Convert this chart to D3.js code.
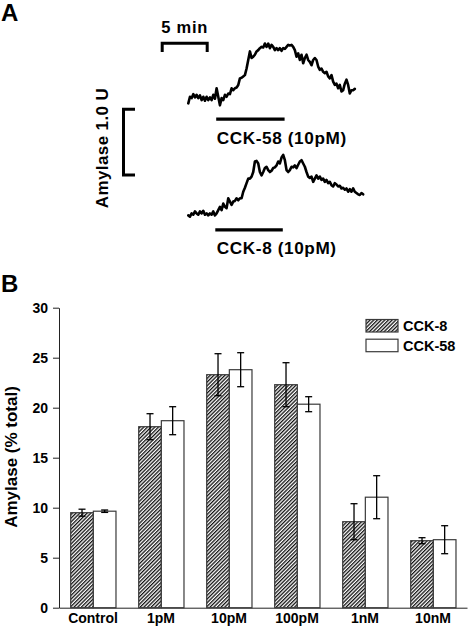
<!DOCTYPE html>
<html><head><meta charset="utf-8">
<script src="https://cdn.jsdelivr.net/npm/d3@7"></script>
<style>
body{margin:0;background:#fff}
text{font-family:"Liberation Sans",Arial,Helvetica,sans-serif;font-weight:bold;fill:#000}
</style>
</head><body>
<svg id="c" width="470" height="628"></svg>
<script>
// ---------- Panel A data (amylase release traces, U) ----------
const sampleStepMin = 0.185; // minutes between samples
const traceCCK58 = [0.01,0.11,0.09,0.15,0.10,0.14,0.09,0.13,0.06,0.11,0.05,0.11,0.06,0.10,0.06,0.14,0.08,0.24,0.11,-0.02,
  0.09,0.06,0.14,0.11,0.16,0.15,0.24,0.21,0.24,0.25,0.29,0.39,0.40,0.42,0.44,0.54,0.67,0.80,0.70,0.72,
  0.75,0.80,0.82,0.85,0.87,0.86,0.92,0.87,0.92,0.85,0.90,
  0.87,0.82,0.85,0.82,0.85,0.81,0.85,0.84,0.87,0.90,0.89,0.90,0.87,0.82,0.72,0.77,0.67,0.75,0.62,0.70,
  0.75,0.67,0.64,0.59,0.67,0.70,0.67,0.57,0.52,0.54,0.49,0.47,0.49,0.42,0.39,0.44,0.34,0.29,0.31,0.24,
  0.29,0.19,0.21,0.31,0.37,0.29,0.16,0.21,0.21,0.23];
const traceCCK8 = [0.04,0.02,0.07,0.05,0.10,0.07,0.05,0.10,0.07,0.11,0.05,0.07,0.04,0.07,0.05,0.10,0.04,0.07,0.12,0.17,
  0.12,0.22,0.17,0.15,0.30,0.25,0.20,0.25,0.26,0.30,0.27,0.30,0.30,0.40,0.46,0.53,0.60,0.60,0.63,0.70,
  0.86,0.87,0.83,0.70,0.65,0.70,0.76,0.78,0.73,0.70,
  0.72,0.76,0.77,0.80,0.86,0.83,0.92,0.96,0.88,0.73,0.70,0.73,0.78,0.77,0.80,0.76,0.81,0.86,0.88,0.83,
  0.78,0.70,0.63,0.61,0.63,0.55,0.60,0.65,0.60,0.63,0.58,0.60,0.55,0.58,0.53,0.55,0.50,0.48,0.53,0.51,
  0.48,0.49,0.45,0.46,0.43,0.45,0.40,0.44,0.40,0.45,0.40,0.38,0.36,0.35,0.38,0.36];
const stimCCK58 = [3.1, 10.7];   // min
const stimCCK8 = [3.0, 10.5];    // min
const timeScaleBar = [-2.9, 2.1]; // 5 min
const ampScaleBar = [0.654, 1.654]; // 1.0 U (on CCK-8 trace axis)

// ---------- Panel B data ----------
const categories = ["Control","1pM","10pM","100pM","1nM","10nM"];
const seriesNames = ["CCK-8","CCK-58"];
const valuesCCK8  = [9.5, 18.1, 23.3, 22.3, 8.6, 6.7];
const errorsCCK8  = [0.35, 1.3, 2.1, 2.2, 1.8, 0.3];
const valuesCCK58 = [9.65, 18.7, 23.8, 20.35, 11.05, 6.8];
const errorsCCK58 = [0.12, 1.4, 1.7, 0.75, 2.15, 1.4];
const yTickValues = [0,5,10,15,20,25,30];

const svg = d3.select("#c");
const defs = svg.append("defs");
const pat = defs.append("pattern").attr("id","hatch").attr("patternUnits","userSpaceOnUse")
  .attr("width",2.6).attr("height",2.6).attr("patternTransform","rotate(45)");
pat.append("rect").attr("width",2.6).attr("height",2.6).attr("fill","#fff");
pat.append("rect").attr("width",1.3).attr("height",2.6).attr("fill","#111");

// ---------- Panel A ----------
svg.append("text").attr("x",1).attr("y",21).attr("font-size",24).text("A");
const xt = d3.scaleLinear().domain([0,20]).range([188.3,368.3]);
const y58 = d3.scaleLinear().domain([0,1]).range([104,38.3]);
const y8 = d3.scaleLinear().domain([0,1]).range([218,152.3]);

function drawTrace(data, ys){
  const line = d3.line().x((d,i)=>xt(i*sampleStepMin)).y(d=>ys(d)).curve(d3.curveLinear);
  svg.append("path").datum(data).attr("d",line).attr("fill","none")
    .attr("stroke","#000").attr("stroke-width",2.6).attr("stroke-linejoin","round").attr("stroke-linecap","round");
}
drawTrace(traceCCK58, y58);
drawTrace(traceCCK8, y8);

svg.append("line").attr("x1",xt(stimCCK58[0])).attr("x2",xt(stimCCK58[1]))
  .attr("y1",y58(-0.23)).attr("y2",y58(-0.23)).attr("stroke","#000").attr("stroke-width",3.2);
svg.append("text").attr("x",xt(stimCCK58[0])+0.5).attr("y",y58(-0.61)).attr("font-size",17.2).attr("letter-spacing",0.6).text("CCK-58 (10pM)");
svg.append("line").attr("x1",xt(stimCCK8[0])).attr("x2",xt(stimCCK8[1]))
  .attr("y1",y8(-0.18)).attr("y2",y8(-0.18)).attr("stroke","#000").attr("stroke-width",3.2);
svg.append("text").attr("x",xt(stimCCK8[0])+1.5).attr("y",y8(-0.55)).attr("font-size",17.2).attr("letter-spacing",0.6).text("CCK-8 (10pM)");

// time scale bar
const tb0 = xt(timeScaleBar[0]), tb1 = xt(timeScaleBar[1]);
svg.append("path").attr("d",`M${tb0},52V43.3H${tb1}V52`).attr("fill","none").attr("stroke","#000").attr("stroke-width",3);
svg.append("text").attr("x",(tb0+tb1)/2).attr("y",33).attr("text-anchor","middle").attr("font-size",16.5).attr("letter-spacing",0.8).text("5 min");

// amplitude scale bar
const ab0 = y8(ampScaleBar[0]), ab1 = y8(ampScaleBar[1]);
svg.append("path").attr("d",`M135,${ab1}H123.5V${ab0}H135`).attr("fill","none").attr("stroke","#000").attr("stroke-width",3);
svg.append("text").attr("transform",`translate(108,148) rotate(-90)`).attr("text-anchor","middle")
  .attr("font-size",17).attr("letter-spacing",0.4).text("Amylase 1.0 U");

// ---------- Panel B ----------
svg.append("text").attr("x",1).attr("y",292).attr("font-size",24).text("B");
const x = d3.scaleBand().domain(categories).range([59,467]).padding(0);
const y = d3.scaleLinear().domain([0,30]).range([607.7,307.7]);
const bw = x.bandwidth();

const yAxis = svg.append("g").attr("transform","translate(59,0)")
  .call(d3.axisLeft(y).tickValues(yTickValues).tickSize(6).tickSizeOuter(0).tickPadding(5));
yAxis.select(".domain").attr("stroke","#222");
yAxis.selectAll(".tick line").attr("stroke","#222");
yAxis.selectAll("text").attr("font-size",14).attr("font-family",null);

const xAxis = svg.append("g").attr("transform","translate(0,607.7)")
  .call(d3.axisBottom(x).tickSize(0).tickPadding(5.5));
xAxis.select(".domain").attr("stroke","#222");
xAxis.selectAll("text").attr("font-size",14).attr("font-family",null);

svg.append("text").attr("transform","translate(17,457) rotate(-90)").attr("text-anchor","middle")
  .attr("font-size",17).text("Amylase (% total)");

const rows = categories.map((c,i)=>({c, v:[valuesCCK8[i],valuesCCK58[i]], e:[errorsCCK8[i],errorsCCK58[i]]}));
const offsets = [0.172, 0.505], widthFrac = 0.333;
rows.forEach(r=>{
  [0,1].forEach(s=>{
    const bx = x(r.c) + offsets[s]*bw, w = widthFrac*bw;
    svg.append("rect").attr("x",bx).attr("y",y(r.v[s])).attr("width",w).attr("height",y(0)-y(r.v[s]))
      .attr("fill", s===0 ? "url(#hatch)" : "#fff").attr("stroke","#3a3a3a").attr("stroke-width",1.2);
  });
});
rows.forEach(r=>{
  [0,1].forEach(s=>{
    const cx = x(r.c) + offsets[s]*bw + widthFrac*bw/2;
    const t = y(r.v[s]+r.e[s]), b = y(r.v[s]-r.e[s]);
    const g = svg.append("g").attr("stroke","#000").attr("stroke-width",1.3);
    g.append("line").attr("x1",cx).attr("x2",cx).attr("y1",t).attr("y2",b);
    g.append("line").attr("x1",cx-3.5).attr("x2",cx+3.5).attr("y1",t).attr("y2",t);
    g.append("line").attr("x1",cx-3.5).attr("x2",cx+3.5).attr("y1",b).attr("y2",b);
  });
});

// legend
const lg = svg.append("g").attr("transform","translate(366,319.5)");
seriesNames.forEach((n,i)=>{
  lg.append("rect").attr("x",0).attr("y",i*19.7).attr("width",32).attr("height",12.5)
    .attr("fill", i===0 ? "url(#hatch)" : "#fff").attr("stroke","#3a3a3a").attr("stroke-width",1.2);
  lg.append("text").attr("x",37).attr("y",i*19.7+11.5).attr("font-size",14.5).text(n);
});
</script>
</body></html>
